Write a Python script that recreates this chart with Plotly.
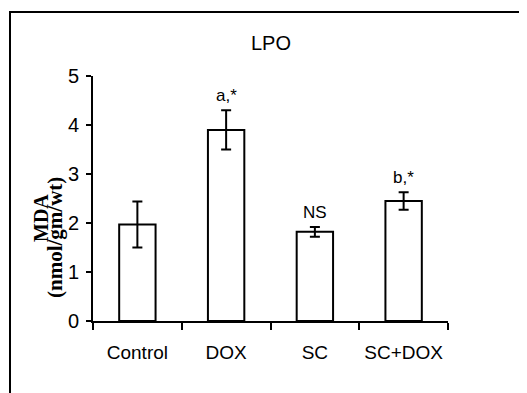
import plotly.graph_objects as go

categories = ["Control", "DOX", "SC", "SC+DOX"]
mda_mean = [1.97, 3.90, 1.82, 2.45]
mda_err = [0.47, 0.40, 0.10, 0.18]
sig_labels = ["", "a,*", "NS", "b,*"]
y_ticks = [0, 1, 2, 3, 4, 5]

W, H = 527, 393
OFF = 8  # page body margin offset
L, R, T, B = 85, 87, 68, 80
pw = W - L - R
ph = H - T - B

def px_x(p):
    return (p - OFF - L) / pw

def px_y(p):
    return (H - B - (p - OFF)) / ph

font_main = "Liberation Sans, Arial, sans-serif"

fig = go.Figure()
fig.add_trace(go.Bar(
    x=categories, y=mda_mean, width=0.41,
    marker=dict(color="white", line=dict(color="black", width=2)),
    error_y=dict(type="data", array=mda_err, visible=True, color="black",
                 thickness=2, width=5),
    showlegend=False,
))

for c, v, e, s in zip(categories, mda_mean, mda_err, sig_labels):
    if s:
        fig.add_annotation(x=c, y=v + e, yref="y", text=s, showarrow=False,
                           yanchor="bottom", yshift=3,
                           font=dict(family=font_main, size=17, color="black"))

fig.add_annotation(xref="paper", yref="paper", x=px_x(41), y=px_y(218),
                   text="<b>MDA</b>", textangle=-90, showarrow=False,
                   xanchor="center", yanchor="middle",
                   font=dict(family="Liberation Serif, Times New Roman, serif", size=20, color="black"))
fig.add_annotation(xref="paper", yref="paper", x=px_x(55), y=px_y(238),
                   text="<b>(nmol/gm/wt)</b>", textangle=-90, showarrow=False,
                   xanchor="center", yanchor="middle",
                   font=dict(family="Liberation Serif, Times New Roman, serif", size=21, color="black"))

fig.add_annotation(xref="paper", yref="paper", x=0.5, y=px_y(43),
                   text="LPO", showarrow=False, xanchor="center", yanchor="middle",
                   font=dict(family=font_main, size=20, color="black"))

# outer frame (cropped at right and bottom)
fig.add_shape(type="rect", xref="paper", yref="paper",
              x0=px_x(10), x1=px_x(560), y0=px_y(420), y1=px_y(12),
              line=dict(color="black", width=2), fillcolor="rgba(0,0,0,0)", layer="below")

fig.update_layout(
    width=W, height=H,
    margin=dict(l=L, r=R, t=T, b=B, autoexpand=False),
    paper_bgcolor="white", plot_bgcolor="white",
    font=dict(family=font_main, size=18, color="black"),
    xaxis=dict(type="category", tickson="boundaries", ticks="outside", ticklen=7,
               tickwidth=2, tickcolor="black", showline=True, linecolor="black",
               linewidth=2, showgrid=False, zeroline=False, tickangle=0,
               tickfont=dict(family=font_main, size=19), ticklabelstandoff=13),
    yaxis=dict(range=[0, 5], tickvals=y_ticks, ticks="outside", ticklen=5,
               tickwidth=2, tickcolor="black", showline=True, linecolor="black",
               linewidth=2, showgrid=False, zeroline=False,
               tickfont=dict(family=font_main, size=20), ticklabelstandoff=3),
)

fig.write_html("out.html")
